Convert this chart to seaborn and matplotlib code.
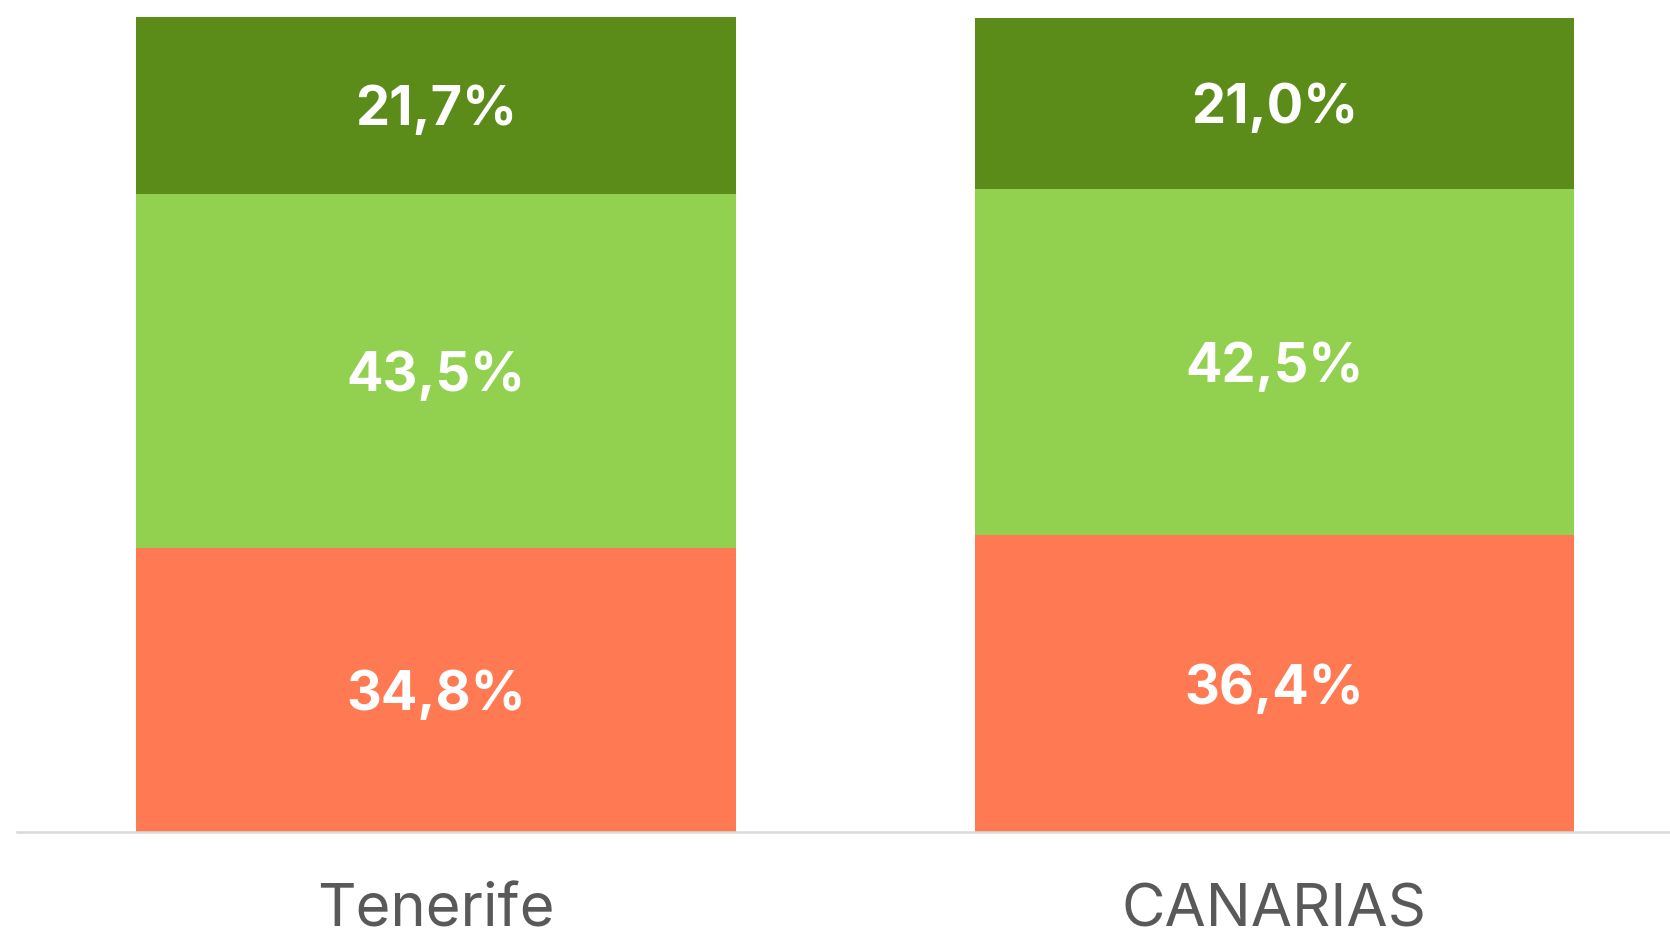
import numpy as np
import pandas as pd
import matplotlib.pyplot as plt
import seaborn as sns

# Data (percent shares, bottom to top)
regions = ["Tenerife", "CANARIAS"]
share_bottom = [34.8, 36.4]   # orange segment
share_middle = [43.5, 42.5]   # light green segment
share_top = [21.7, 21.0]      # dark green segment

colors = ["#FF7A53", "#92D050", "#5B8C1A"]
layers = [share_bottom, share_middle, share_top]

sns.set_style("white")
plt.rcParams["font.family"] = ["Inter", "DejaVu Sans"]

fig = plt.figure(figsize=(16.7, 9.33), dpi=100)
ax = fig.add_axes([17 / 1670, 101 / 933, 1 - 17 / 1670, 815 / 933])

# cumulative tops, drawn tallest first so lower segments sit in front
cum = np.cumsum(np.array(layers), axis=0)
for i in range(len(layers) - 1, -1, -1):
    df = pd.DataFrame({"region": regions, "value": cum[i]})
    sns.barplot(data=df, x="region", y="value", color=colors[i],
                width=0.715, saturation=1, ax=ax, order=regions,
                edgecolor="none", linewidth=0)

# value labels in the middle of each segment
for i, vals in enumerate(layers):
    base = cum[i] - np.array(vals)
    for j, v in enumerate(vals):
        ax.text(j, base[j] + v / 2, f"{v:.1f}%".replace(".", ","),
                ha="center", va="center_baseline", color="white",
                fontsize=39, fontweight="bold")

ax.set_xlim(-0.5, 1.472)
ax.set_ylim(0, 100)
ax.set_xlabel("")
ax.set_ylabel("")
ax.set_yticks([])
ax.tick_params(axis="x", length=0, pad=37, labelsize=43, labelcolor="#595959")
for side in ["top", "left", "right"]:
    ax.spines[side].set_visible(False)
ax.spines["bottom"].set_color("#D9D9D9")
ax.spines["bottom"].set_linewidth(1.8)

fig.savefig("out.png", dpi=100, facecolor="white")
